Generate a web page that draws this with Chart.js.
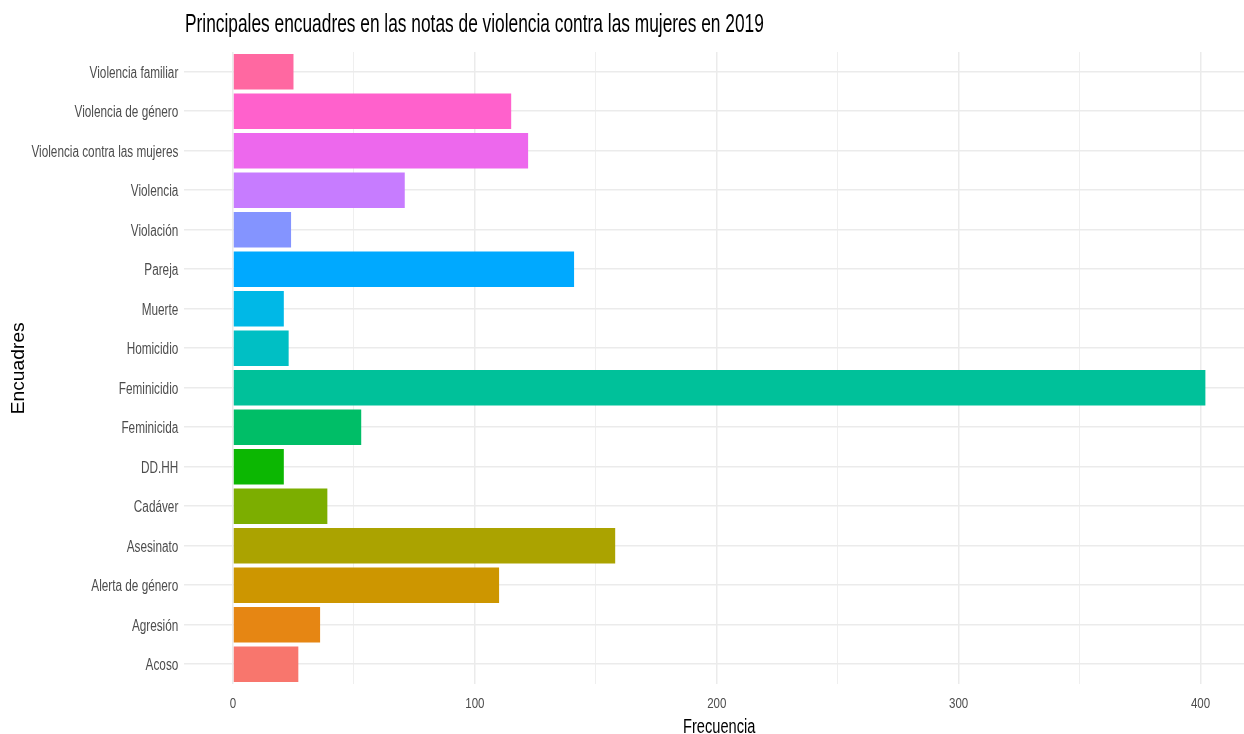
<!DOCTYPE html>
<html>
<head>
<meta charset="utf-8">
<script src="https://cdn.jsdelivr.net/npm/chart.js@4.4.1/dist/chart.umd.min.js"></script>
<style>
  html, body { margin: 0; padding: 0; background: #fff; overflow: hidden; }
  #wrap { width: 1254px; height: 734px; }
</style>
</head>
<body>
<div id="wrap"><canvas id="chart" width="1254" height="734"></canvas></div>
<script>
// categorias de arriba hacia abajo
var encuadres = [
  "Violencia familiar", "Violencia de género", "Violencia contra las mujeres",
  "Violencia", "Violación", "Pareja", "Muerte", "Homicidio", "Feminicidio",
  "Feminicida", "DD.HH", "Cadáver", "Asesinato", "Alerta de género",
  "Agresión", "Acoso"
];
var frecuencia = [25, 115, 122, 71, 24, 141, 21, 23, 402, 53, 21, 39, 158, 110, 36, 27];
var colores = [
  "#FF68A1", "#FF61CC", "#ED68ED", "#C77CFF", "#8494FF", "#00A9FF", "#00B8E7", "#00BFC4",
  "#00C19A", "#00BE67", "#0CB702", "#7CAE00", "#ABA300", "#CD9600", "#E68613", "#F8766D"
];
var xTicks = [0, 100, 200, 300, 400];

var sans = '"Liberation Sans", Arial, sans-serif';

// no hay fuente narrow instalada: se comprime el texto a mano
function texto(ctx, s, x, y, size, sx, align) {
  ctx.save();
  ctx.font = size + 'px ' + sans;
  ctx.textAlign = align;
  ctx.translate(x, y);
  ctx.scale(sx, 1);
  ctx.fillText(s, 0, 0);
  ctx.restore();
}

var textos = {
  id: 'textos',
  afterDraw: function(chart) {
    var ctx = chart.ctx, a = chart.chartArea;
    var xs = chart.scales.x, ys = chart.scales.y;
    ctx.save();
    ctx.textBaseline = 'alphabetic';

    ctx.fillStyle = '#000';
    texto(ctx, 'Principales encuadres en las notas de violencia contra las mujeres en 2019', 185, 32.3, 25, 0.693, 'left');
    texto(ctx, 'Frecuencia', (a.left + a.right) / 2, 732.5, 20, 0.73, 'center');

    ctx.save();
    ctx.translate(23.7, 368.3);
    ctx.rotate(-Math.PI / 2);
    texto(ctx, 'Encuadres', 0, 0, 17.5, 1.1, 'center');
    ctx.restore();

    ctx.fillStyle = '#4D4D4D';
    xTicks.forEach(function(v) {
      texto(ctx, String(v), xs.getPixelForValue(v), 708.3, 15.4, 0.75, 'center');
    });
    encuadres.forEach(function(lab, i) {
      texto(ctx, lab, 178.3, ys.getPixelForValue(i) + 5.8, 16, 0.735, 'right');
    });
    ctx.restore();
  }
};

var canvas = document.getElementById('chart').getContext('2d');
window.barras = new Chart(canvas, {
  type: 'bar',
  data: {
    labels: encuadres,
    datasets: [{
      data: frecuencia,
      backgroundColor: colores,
      borderWidth: 0,
      categoryPercentage: 1,
      barPercentage: 0.9
    }]
  },
  options: {
    indexAxis: 'y',
    responsive: false,
    animation: false,
    layout: { padding: { top: 52, right: 0, left: 0, bottom: 0 } },
    plugins: {
      legend: { display: false },
      tooltip: { enabled: false }
    },
    scales: {
      x: {
        type: 'linear',
        min: -20.1,
        max: 422.1,
        afterBuildTicks: function(s) {
          var t = [];
          for (var v = 0; v <= 400; v += 50) t.push({ value: v });
          s.ticks = t;
        },
        afterFit: function(s) { s.height = 50; },
        border: { display: false },
        grid: {
          drawTicks: false,
          color: '#EBEBEB',
          lineWidth: function(c) { return c.tick && c.tick.value % 100 === 0 ? 1.5 : 0.8; }
        },
        ticks: { display: false }
      },
      y: {
        afterFit: function(s) { s.width = 184.4; },
        border: { display: false },
        grid: { offset: false, drawTicks: false, color: '#EBEBEB', lineWidth: 1.6 },
        ticks: { display: false }
      }
    }
  },
  plugins: [textos]
});
</script>
</body>
</html>
